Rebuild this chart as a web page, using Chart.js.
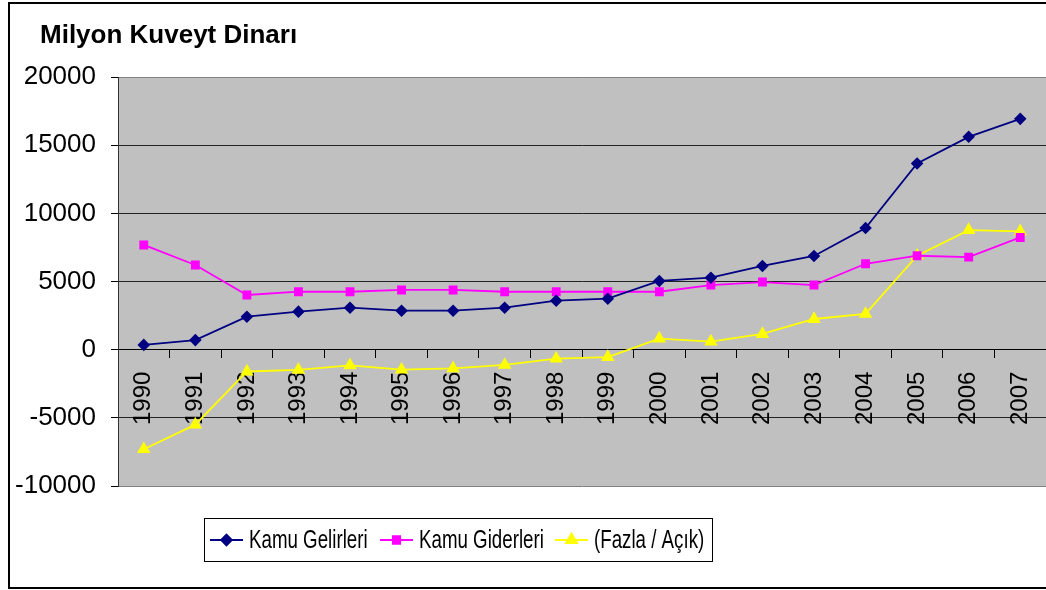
<!DOCTYPE html>
<html lang="tr">
<head>
  <meta charset="UTF-8" />
  <title>Milyon Kuveyt Dinarı</title>
  <script src="https://cdn.jsdelivr.net/npm/chart.js"></script>
  <style>
    html, body {
      margin: 0;
      padding: 0;
      background: #fff;
    }
    #wrap {
      width: 1046px;
      height: 590px;
    }
  </style>
</head>
<body>
  <div id="wrap">
    <canvas id="kuveytChart" width="1046" height="590"></canvas>
  </div>

  <script>
    const years = ['1990', '1991', '1992', '1993', '1994', '1995', '1996', '1997', '1998', '1999',
                   '2000', '2001', '2002', '2003', '2004', '2005', '2006', '2007'];
    const gelirler = [350, 700, 2420, 2790, 3080, 2860, 2860, 3080, 3590, 3740,
                      5040, 5280, 6140, 6870, 8920, 13660, 15610, 16930];
    const giderler = [7680, 6210, 4010, 4250, 4250, 4380, 4380, 4250, 4250, 4250,
                      4250, 4740, 4960, 4740, 6300, 6890, 6790, 8230];
    const fazlaAcik = [-7300, -5500, -1600, -1480, -1150, -1470, -1370, -1120, -660, -540,
                       810, 590, 1150, 2250, 2620, 6890, 8770, 8680];
    const yTicks = [-10000, -5000, 0, 5000, 10000, 15000, 20000];

    const FONT = 'Arial, "Liberation Sans", sans-serif';

    // gray plot background, outer frame and title
    const backdrop = {
      id: 'backdrop',
      beforeDraw(chart) {
        const { ctx, chartArea: a } = chart;
        ctx.save();
        ctx.fillStyle = '#fff';
        ctx.fillRect(0, 0, chart.width, chart.height);
        ctx.strokeStyle = '#000';
        ctx.lineWidth = 2;
        ctx.strokeRect(9, 3, chart.width, 585);
        ctx.fillStyle = '#c0c0c0';
        ctx.fillRect(a.left, a.top, a.right - a.left, a.bottom - a.top);
        ctx.fillStyle = '#000';
        ctx.font = 'bold 26px ' + FONT;
        ctx.textBaseline = 'alphabetic';
        ctx.fillText('Milyon Kuveyt Dinarı', 40, 43);
        ctx.restore();
      }
    };

    // boxed legend under the plot, like the spreadsheet one
    const boxLegend = {
      id: 'boxLegend',
      afterDraw(chart) {
        const ctx = chart.ctx;
        const starts = [210, 380, 555];
        const cy = 540;
        ctx.save();
        ctx.strokeStyle = '#000';
        ctx.lineWidth = 1;
        ctx.strokeRect(204.5, 518.5, 508, 43);
        chart.data.datasets.forEach((ds, i) => {
          const x0 = starts[i];
          ctx.strokeStyle = ds.borderColor;
          ctx.lineWidth = 2;
          ctx.beginPath();
          ctx.moveTo(x0, cy);
          ctx.lineTo(x0 + 33, cy);
          ctx.stroke();
          Chart.helpers.drawPoint(ctx, {
            pointStyle: ds.pointStyle,
            radius: ds.pointRadius,
            borderWidth: 1
          }, x0 + 16.5, cy);
          ctx.fillStyle = ds.pointBackgroundColor;
          ctx.strokeStyle = ds.pointBorderColor;
          ctx.fill();
          ctx.stroke();
          ctx.save();
          ctx.translate(x0 + 39, cy + 1);
          ctx.scale(0.72, 1);
          ctx.fillStyle = '#000';
          ctx.font = '26px ' + FONT;
          ctx.textBaseline = 'middle';
          ctx.fillText(ds.label, 0, 0);
          ctx.restore();
        });
        ctx.restore();
      }
    };

    function series(label, data, color, style, radius) {
      return {
        label: label,
        data: data,
        borderColor: color,
        backgroundColor: color,
        pointBackgroundColor: color,
        pointBorderColor: color,
        pointStyle: style,
        pointRadius: radius,
        pointHoverRadius: radius,
        borderWidth: 1.8,
        tension: 0
      };
    }

    new Chart(document.getElementById('kuveytChart'), {
      type: 'line',
      data: {
        labels: years,
        datasets: [
          series('Kamu Gelirleri', gelirler, '#000080', 'rectRot', 5),
          series('Kamu Giderleri', giderler, '#ff00ff', 'rect', 5),
          series('(Fazla / Açık)', fazlaAcik, '#ffff00', 'triangle', 6)
        ]
      },
      options: {
        responsive: false,
        animation: false,
        layout: {
          autoPadding: false,
          padding: { top: 77, bottom: 104, left: 0, right: 0 }
        },
        plugins: {
          legend: { display: false },
          tooltip: { enabled: false }
        },
        scales: {
          x: {
            position: { y: 0 },
            offset: true,
            afterFit(scale) {
              scale.paddingLeft = 0;
              scale.paddingRight = 0;
            },
            grid: {
              offset: true,
              drawOnChartArea: false,
              drawTicks: true,
              tickLength: 8,
              color: '#000'
            },
            border: { display: true, color: '#000', width: 1 },
            ticks: {
              autoSkip: false,
              minRotation: 90,
              maxRotation: 90,
              padding: 14,
              color: '#000',
              font: { family: FONT, size: 24 }
            }
          },
          y: {
            min: -10000,
            max: 20000,
            afterBuildTicks(scale) {
              scale.ticks = yTicks.map(v => ({ value: v }));
            },
            afterFit(scale) {
              scale.width = 118;
            },
            grid: {
              color: (c) => (c.index === 0 || c.index === yTicks.length - 1) ? '#808080' : '#222',
              tickColor: '#000',
              tickLength: 7,
              lineWidth: 1
            },
            border: { display: true, color: '#333', width: 1 },
            ticks: {
              padding: 15,
              color: '#000',
              font: { family: FONT, size: 26 },
              callback: (v) => String(v)
            }
          }
        }
      },
      plugins: [backdrop, boxLegend]
    });
  </script>
</body>
</html>
